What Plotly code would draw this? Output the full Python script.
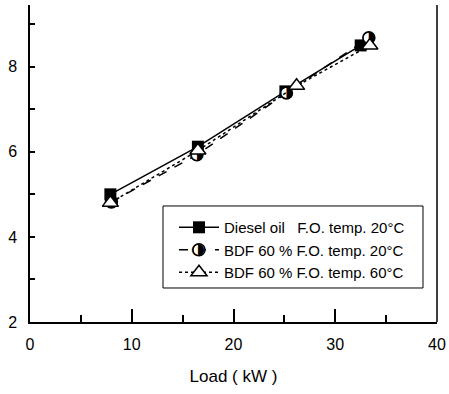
import plotly.graph_objects as go

# Data
diesel_x = [7.9, 16.5, 25.1, 32.5]
diesel_y = [5.0, 6.12, 7.42, 8.5]
bdf20_x = [8.0, 16.4, 25.2, 33.3]
bdf20_y = [4.82, 5.93, 7.38, 8.68]
bdf60_x = [7.9, 16.5, 26.2, 33.4]
bdf60_y = [4.8, 6.03, 7.55, 8.5]

names = [
    "Diesel oil\u00a0\u00a0\u00a0F.O. temp. 20°C",
    "BDF 60 % F.O. temp. 20°C",
    "BDF 60 % F.O. temp. 60°C",
]

x_ticks = [0, 10, 20, 30, 40]
y_ticks = [2, 4, 6, 8]

fig = go.Figure()
fig.add_trace(go.Scatter(
    x=diesel_x, y=diesel_y, mode="lines+markers", name=names[0],
    line=dict(color="black", width=1.5, dash="solid"),
    marker=dict(symbol="square", size=12, color="black"),
))
fig.add_trace(go.Scatter(
    x=bdf20_x, y=bdf20_y, mode="lines+markers", name=names[1],
    line=dict(color="black", width=1.5, dash="dash"),
    marker=dict(symbol="circle", size=12, color="white",
                line=dict(color="black", width=1.5)),
))
fig.add_trace(go.Scatter(
    x=bdf20_x, y=bdf20_y, mode="text", text=["\u25D1"] * len(bdf20_x),
    textfont=dict(family="DejaVu Sans", size=16, color="black"),
    textposition="middle center", showlegend=False, hoverinfo="skip",
))
fig.add_trace(go.Scatter(
    x=bdf60_x, y=bdf60_y, mode="lines+markers", name=names[2],
    line=dict(color="black", width=1.5, dash="dot"),
    marker=dict(symbol="triangle-up", size=14, color="white",
                line=dict(color="black", width=1.5)),
))

# right frame line
fig.add_shape(type="line", xref="paper", yref="paper", x0=1, x1=1, y0=0, y1=1,
              line=dict(color="black", width=1.5))
# legend frame
fig.add_shape(type="rect", xref="paper", yref="paper", x0=0.3268, x1=0.9656,
              y0=0.1073, y1=0.366, layer="above",
              line=dict(color="black", width=1), fillcolor="white")

# half-filled glyph over legend symbol
fig.add_annotation(text="\u25D1", xref="paper", yref="paper", x=0.4128, y=0.2334,
                   showarrow=False, font=dict(family="DejaVu Sans", size=16, color="black"),
                   xanchor="center", yanchor="middle")

fig.update_layout(
    width=449, height=394,
    margin=dict(l=30, r=12, t=5, b=72),
    paper_bgcolor="white", plot_bgcolor="white",
    font=dict(family="Arial", size=16, color="black"),
    showlegend=True,
    legend=dict(
        x=0.3538, y=0.350, xanchor="left", yanchor="top",
        bgcolor="rgba(0,0,0,0)", borderwidth=0,
        font=dict(family="Arial", size=15, color="black"),
        itemwidth=40, tracegroupgap=0,
    ),
    xaxis=dict(
        range=[0, 40], tickvals=x_ticks, ticktext=[str(v) for v in x_ticks],
        showgrid=False, zeroline=False, showline=True, linecolor="black", linewidth=1.5,
        ticks="inside", ticklen=13, tickwidth=1.5, tickcolor="black",
        minor=dict(dtick=5, ticks="inside", ticklen=7, tickwidth=1.5, tickcolor="black", showgrid=False),
        ticklabelstandoff=7, automargin=False,
        title=dict(text="Load ( kW )", font=dict(size=17), standoff=18),
    ),
    yaxis=dict(
        range=[2, 9.45], tickvals=y_ticks, ticktext=[str(v) for v in y_ticks],
        showgrid=False, zeroline=False, showline=True, linecolor="black", linewidth=1.5,
        ticks="inside", ticklen=5, tickwidth=1.5, tickcolor="black",
        minor=dict(dtick=1, ticks="inside", ticklen=5, tickwidth=1.5, tickcolor="black", showgrid=False),
        ticklabelstandoff=8, automargin=False,
    ),
)

fig.write_html("out.html", config={"displayModeBar": False},
               post_script="document.body.style.margin='0px';document.body.style.overflow='hidden';")
